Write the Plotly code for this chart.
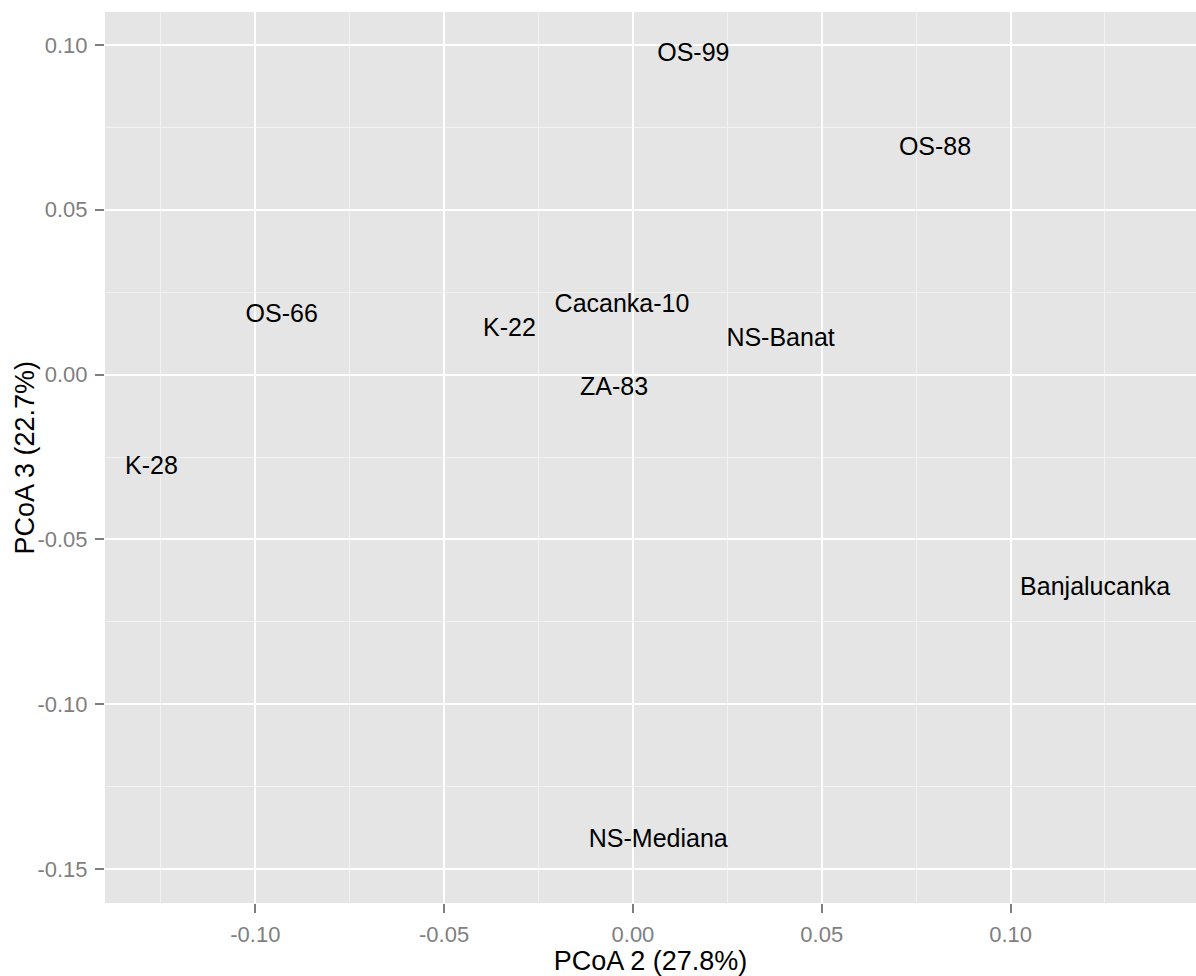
import plotly.graph_objects as go

labels = ["OS-99", "OS-88", "OS-66", "K-22", "Cacanka-10", "NS-Banat",
          "ZA-83", "K-28", "Banjalucanka", "NS-Mediana"]
pcoa2 = [0.0160, 0.0800, -0.0930, -0.0327, -0.0029, 0.0391,
         -0.0050, -0.1275, 0.1224, 0.0067]
pcoa3 = [0.0971, 0.0686, 0.0178, 0.0136, 0.0209, 0.0107,
         -0.0043, -0.0284, -0.0650, -0.1414]

x_ticks = [-0.10, -0.05, 0.00, 0.05, 0.10]
x_tick_text = ["-0.10", "-0.05", "0.00", "0.05", "0.10"]
y_ticks = [-0.15, -0.10, -0.05, 0.00, 0.05, 0.10]
y_tick_text = ["-0.15", "-0.10", "-0.05", "0.00", "0.05", "0.10"]

x_title = "PCoA 2 (27.8%)"
y_title = "PCoA 3 (22.7%)"

FONT = "Liberation Sans, Arial, sans-serif"

fig = go.Figure(go.Scatter(
    x=pcoa2, y=pcoa3, text=labels, mode="text",
    textposition="middle center",
    textfont=dict(family=FONT, size=25, color="black"),
    hoverinfo="text", showlegend=False,
))

axis_common = dict(
    showgrid=True, gridcolor="white", gridwidth=2,
    zeroline=False, showline=False,
    ticks="outside", ticklen=9, tickwidth=1.5, tickcolor="#7f7f7f",
    tickfont=dict(family=FONT, size=22, color="#7f7f7f"),
    minor=dict(showgrid=True, gridcolor="#f2f2f2", gridwidth=1, ticks=""),
)

fig.update_layout(
    width=1196, height=976,
    margin=dict(l=105, r=0, t=12, b=73),
    paper_bgcolor="white", plot_bgcolor="#e5e5e5",
    font=dict(family=FONT),
    xaxis=dict(
        range=[-0.1398, 0.1491], tickvals=x_ticks, ticktext=x_tick_text,
        title=dict(text=x_title, font=dict(family=FONT, size=27, color="black"), standoff=4),
        ticklabelstandoff=3,
        **axis_common,
    ),
    yaxis=dict(
        range=[-0.1603, 0.1100], tickvals=y_ticks, ticktext=y_tick_text,
        ticklabelstandoff=3,
        **axis_common,
    ),
    annotations=[dict(
        text=y_title, textangle=-90, xref="paper", yref="paper",
        x=0, y=0.5, xanchor="center", yanchor="middle", xshift=-81,
        showarrow=False, font=dict(family=FONT, size=27, color="black"),
    )],
)
fig.update_xaxes(minor=dict(tickvals=[-0.125, -0.075, -0.025, 0.025, 0.075, 0.125]))
fig.update_yaxes(minor=dict(tickvals=[-0.125, -0.075, -0.025, 0.025, 0.075]))

fig.write_html(
    "out.html",
    config={"displayModeBar": False},
    post_script="document.body.style.margin='0';document.body.style.overflow='hidden';",
)
